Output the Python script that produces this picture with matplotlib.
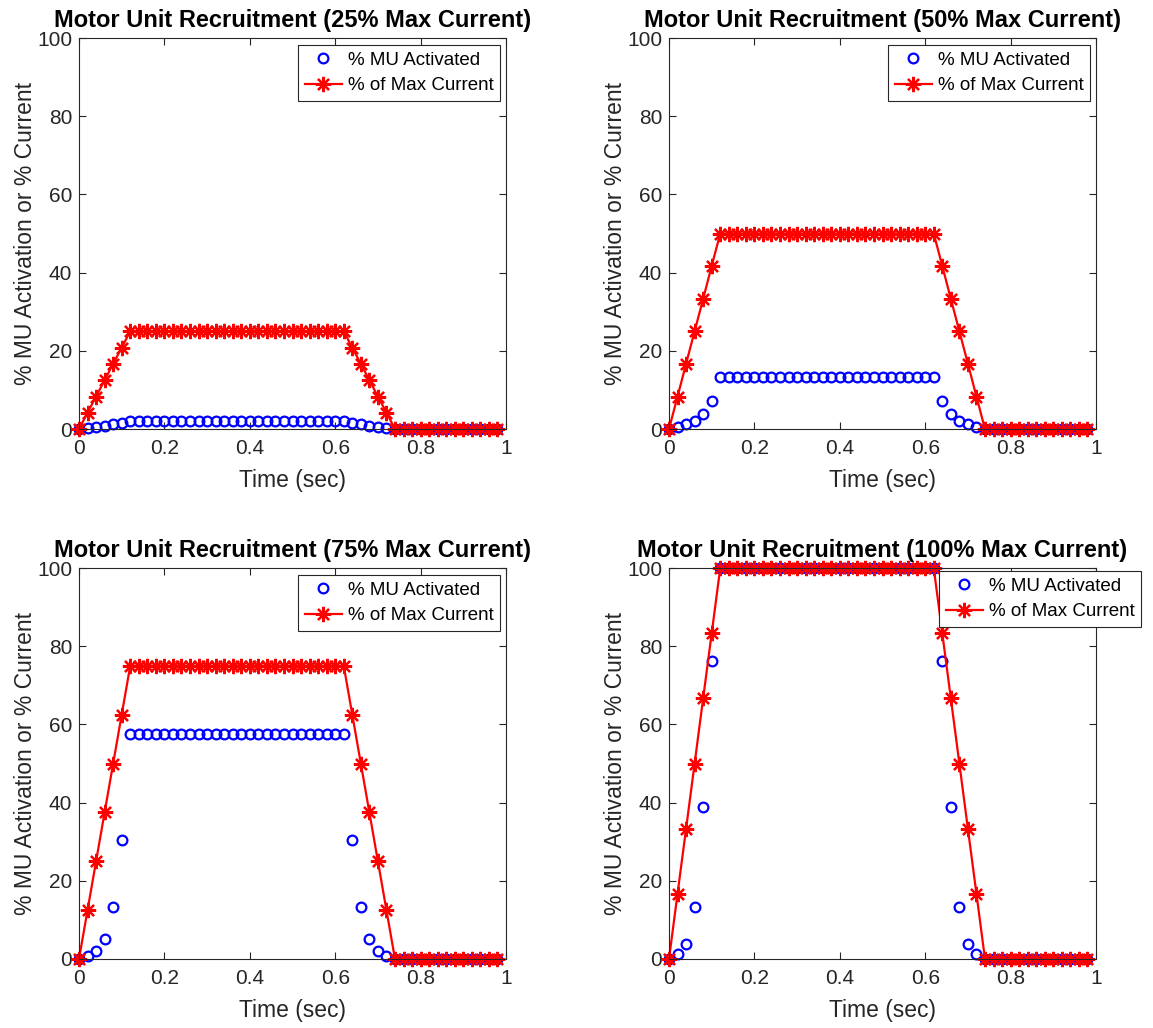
import matplotlib
matplotlib.use('Agg')
import matplotlib.pyplot as plt
import numpy as np

plt.rcParams['font.family'] = ['Liberation Sans', 'DejaVu Sans']

# time axis (sec), 50 samples every 0.02 s
t = np.round(np.arange(50) * 0.02, 2)

# % of max current for each stimulation level
cur25 = [0, 4.2, 8.3, 12.5, 16.7, 20.8] + [25] * 26 + [20.8, 16.7, 12.5, 8.3, 4.2] + [0] * 13
cur50 = [0, 8.3, 16.7, 25, 33.3, 41.7] + [50] * 26 + [41.7, 33.3, 25, 16.7, 8.3] + [0] * 13
cur75 = [0, 12.5, 25, 37.5, 50, 62.5] + [75] * 26 + [62.5, 50, 37.5, 25, 12.5] + [0] * 13
cur100 = [0, 16.7, 33.3, 50, 66.7, 83.3] + [100] * 26 + [83.3, 66.7, 50, 33.3, 16.7] + [0] * 13

# % motor units activated
mu25 = [0, 0.3, 0.6, 0.8, 1.2, 1.6] + [2.0] * 26 + [1.6, 1.2, 0.8, 0.6, 0.3] + [0] * 13
mu50 = [0, 0.6, 1.2, 2.0, 3.8, 7.2] + [13.3] * 26 + [7.2, 3.8, 2.0, 1.2, 0.6] + [0] * 13
mu75 = [0, 0.8, 2.0, 5.2, 13.3, 30.5] + [57.5] * 26 + [30.5, 13.3, 5.2, 2.0, 0.8] + [0] * 13
mu100 = [0, 1.2, 3.8, 13.3, 38.8, 76.2] + [100] * 26 + [76.2, 38.8, 13.3, 3.8, 1.2] + [0] * 13

titles = ['Motor Unit Recruitment (25% Max Current)',
          'Motor Unit Recruitment (50% Max Current)',
          'Motor Unit Recruitment (75% Max Current)',
          'Motor Unit Recruitment (100% Max Current)']
xticks = [0, 0.2, 0.4, 0.6, 0.8, 1]
xticklabels = ['0', '0.2', '0.4', '0.6', '0.8', '1']
yticks = [0, 20, 40, 60, 80, 100]

W, H = 1153, 1028
fig = plt.figure(figsize=(W / 100, H / 100), dpi=100)
ax_gray = (0.15, 0.15, 0.15)

# axes boxes in pixels: left, top, right, bottom
boxes = [(79, 38, 506, 429), (669, 38, 1096, 429),
         (79, 568, 506, 959), (669, 568, 1096, 959)]
# legend upper-right corners in pixels
legend_corner = [(500, 45), (1090, 45), (500, 575), (1141, 571)]
data = [(mu25, cur25), (mu50, cur50), (mu75, cur75), (mu100, cur100)]

for i, (l, tp, r, b) in enumerate(boxes):
    ax = fig.add_axes([l / W, 1 - b / H, (r - l) / W, (b - tp) / H])
    mu, cur = data[i]
    ax.plot(t, mu, 'o', color='blue', markerfacecolor='none', markersize=7,
            markeredgewidth=1.6, label='% MU Activated', clip_on=False)
    ax.plot(t, cur, '-', color='red', linewidth=1.6, marker=(8, 2, 0),
            markersize=11, markeredgewidth=1.6, label='% of Max Current', clip_on=False)
    ax.set_xlim(0, 1)
    ax.set_ylim(0, 100)
    ax.set_xticks(xticks)
    ax.set_xticklabels(xticklabels)
    ax.set_yticks(yticks)
    ax.tick_params(direction='in', top=True, right=True, length=5, width=0.8,
                   labelsize=15, colors=ax_gray)
    ax.tick_params(axis='x', pad=7)
    ax.tick_params(axis='y', pad=5)
    for s in ax.spines.values():
        s.set_color(ax_gray)
        s.set_linewidth(0.8)
    ax.set_title(titles[i], fontsize=17, fontweight='bold', pad=8)
    ax.set_xlabel('Time (sec)', fontsize=16.5, color=ax_gray, labelpad=8)
    ax.set_ylabel('% MU Activation or % Current', fontsize=16.5, color=ax_gray, labelpad=0)
    cx, cy = legend_corner[i]
    leg = ax.legend(loc='upper right', bbox_to_anchor=(cx / W, 1 - cy / H),
                    bbox_transform=fig.transFigure, fontsize=13.5, fancybox=False,
                    framealpha=1, edgecolor=ax_gray, handlelength=2.0,
                    handletextpad=0.3, borderpad=0.35, labelspacing=0.45,
                    borderaxespad=0)
    leg.get_frame().set_linewidth(0.8)

fig.savefig('out.png', dpi=100)
